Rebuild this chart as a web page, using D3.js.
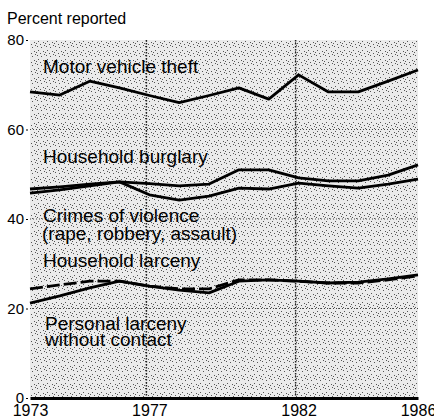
<!DOCTYPE html>
<html>
<head>
<meta charset="utf-8">
<script src="https://cdn.jsdelivr.net/npm/d3@7"></script>
<style>
  body { margin: 0; background: #fff; }
  text { font-family: "Liberation Sans", Arial, Helvetica, sans-serif; fill: #000; }
</style>
</head>
<body>
<div id="plot"></div>
<script>
// Data
const years = [1973, 1974, 1975, 1976, 1977, 1978, 1979, 1980, 1981, 1982, 1983, 1984, 1985, 1986];
const motorVehicleTheft = [68.4, 67.7, 70.8, 69.3, 67.6, 66.0, 67.6, 69.3, 66.8, 72.2, 68.4, 68.4, 70.8, 73.3];
const householdBurglary = [46.7, 47.2, 47.8, 48.3, 47.9, 47.4, 47.8, 51.0, 51.0, 49.2, 48.5, 48.5, 49.8, 52.1];
const crimesOfViolence = [45.8, 46.5, 47.4, 48.3, 45.4, 44.2, 45.1, 46.9, 46.7, 48.0, 47.4, 46.9, 47.8, 48.9];
const householdLarceny = [24.4, 25.3, 26.1, 26.1, 25.0, 24.4, 24.4, 26.4, 26.4, 26.1, 25.7, 25.7, 26.4, 27.3];
const personalLarceny = [21.2, 22.8, 24.6, 26.1, 25.0, 24.1, 23.5, 26.1, 26.4, 26.1, 25.7, 25.9, 26.6, 27.5];
const yTicks = [0, 20, 40, 60, 80];
const xTickYears = [1973, 1977, 1982, 1986];

// Chart dimensions and setup
const width = 434;
const height = 418;
const plotLeft = 30, plotRight = 418, plotTop = 40, plotBottom = 398;

const x = d3.scaleLinear().domain([1973, 1986]).range([plotLeft, plotRight]);
const y = d3.scaleLinear().domain([0, 80]).range([plotBottom, plotTop]);

const svg = d3.select("#plot")
  .append("svg")
  .attr("width", width)
  .attr("height", height);

// halftone-ish stipple background
const defs = svg.append("defs");
const pat = defs.append("pattern")
  .attr("id", "stipple")
  .attr("width", 9)
  .attr("height", 9)
  .attr("patternUnits", "userSpaceOnUse");
pat.append("rect").attr("width", 9).attr("height", 9).attr("fill", "#ebebeb");
[[1, 1], [5, 2], [2, 5], [7, 6], [8, 0], [4, 8], [0, 7]].forEach(([px, py]) => {
  pat.append("rect").attr("x", px).attr("y", py).attr("width", 1).attr("height", 1).attr("fill", "#555");
});

svg.append("rect")
  .attr("x", plotLeft)
  .attr("y", plotTop)
  .attr("width", plotRight - plotLeft)
  .attr("height", plotBottom - plotTop)
  .attr("fill", "url(#stipple)");

// dotted grid
svg.append("g")
  .selectAll("line")
  .data([20, 40, 60])
  .enter()
  .append("line")
  .attr("x1", plotLeft)
  .attr("x2", plotRight)
  .attr("y1", d => y(d))
  .attr("y2", d => y(d))
  .attr("stroke", "#444")
  .attr("stroke-width", 1)
  .attr("stroke-dasharray", "1,2");

svg.append("g")
  .selectAll("line")
  .data([1977, 1982])
  .enter()
  .append("line")
  .attr("x1", d => x(d) - 3)
  .attr("x2", d => x(d) - 3)
  .attr("y1", plotTop)
  .attr("y2", plotBottom)
  .attr("stroke", "#222")
  .attr("stroke-width", 1.5)
  .attr("stroke-dasharray", "1.5,1.5");

// y axis labels
const yAxis = d3.axisLeft(y).tickValues(yTicks).tickSize(2).tickPadding(2);
const yg = svg.append("g")
  .attr("transform", `translate(${plotLeft - 2},0)`)
  .call(yAxis);
yg.select(".domain").remove();
yg.selectAll("text").style("font-size", "15px").attr("font-family", null);
yg.selectAll("line").attr("stroke", "#000");

// x axis
const xAxis = d3.axisBottom(x).tickValues(xTickYears).tickFormat(d3.format("d")).tickSize(0).tickPadding(7);
const xg = svg.append("g")
  .attr("transform", `translate(0,${plotBottom})`)
  .call(xAxis);
xg.select(".domain").attr("stroke", "#000").attr("stroke-width", 3);
xg.selectAll("text").style("font-size", "16px").attr("font-family", null);

svg.append("text")
  .attr("x", 7)
  .attr("y", 24)
  .style("font-size", "16px")
  .text("Percent reported");

// lines
const line = d3.line()
  .x((d, i) => x(years[i]))
  .y(d => y(d));

const series = [
  { values: motorVehicleTheft, dash: null },
  { values: householdBurglary, dash: null },
  { values: crimesOfViolence, dash: null },
  { values: householdLarceny, dash: "13,4" },
  { values: personalLarceny, dash: null }
];

svg.append("g")
  .selectAll("path")
  .data(series)
  .enter()
  .append("path")
  .attr("d", d => line(d.values))
  .attr("fill", "none")
  .attr("stroke", "#000")
  .attr("stroke-width", 2.8)
  .attr("stroke-linejoin", "round")
  .attr("stroke-dasharray", d => d.dash);

// series labels
const labels = [
  { text: "Motor vehicle theft", x: 43, y: 73 },
  { text: "Household burglary", x: 43, y: 163 },
  { text: "Crimes of violence", x: 43, y: 222 },
  { text: "(rape, robbery, assault)", x: 42, y: 240 },
  { text: "Household larceny", x: 43, y: 267 },
  { text: "Personal larceny", x: 45, y: 330 },
  { text: "without contact", x: 45, y: 346 }
];

svg.append("g")
  .selectAll("text")
  .data(labels)
  .enter()
  .append("text")
  .attr("x", d => d.x)
  .attr("y", d => d.y)
  .style("font-size", "19px")
  .text(d => d.text);
</script>
</body>
</html>
